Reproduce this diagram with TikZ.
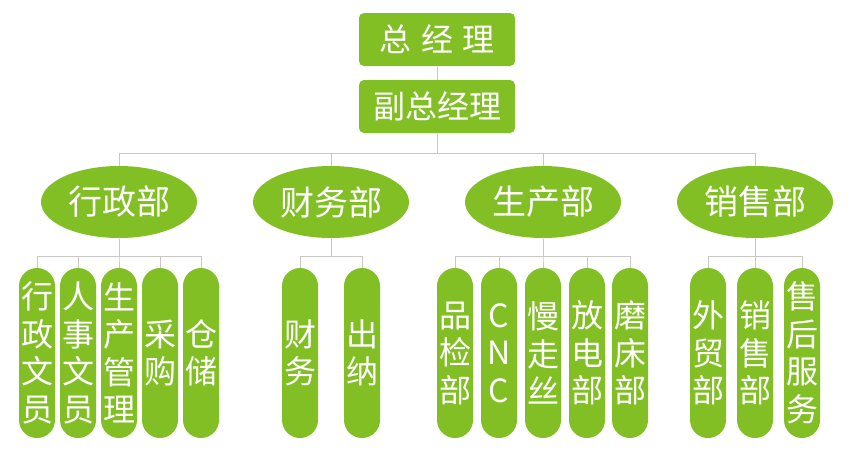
\documentclass[tikz,border=0pt]{standalone}
\usepackage{fontspec}
\setmainfont{Noto Sans CJK SC}
\usepackage{xcolor}
\definecolor{leaf}{HTML}{82BF25}
\definecolor{linegray}{HTML}{C8C8C8}
\usepackage{tikz}
\usetikzlibrary{shapes.geometric,positioning}
\tikzset{
  every picture/.style={line width=1pt},
  boss/.style={fill=leaf, rounded corners=5pt, text=white, minimum width=156pt, minimum height=53pt, inner sep=0pt, font=\fontsize{32}{32}\selectfont},
  dept/.style={ellipse, fill=leaf, text=white, minimum width=156pt, minimum height=72pt, inner sep=0pt, font=\fontsize{34}{34}\selectfont},
  pill/.style={fill=leaf, text=white, rounded corners=18pt, minimum width=36pt, minimum height=170pt, inner sep=0pt, align=center, font=\fontsize{32}{37.5}\selectfont},
  link/.style={draw=linegray},
}

\begin{document}
\begin{tikzpicture}[x=1pt, y=-1pt]
  \useasboundingbox (0,0) rectangle (850,456);
  \node[boss] (gm) at (437,39.5) {总\hspace{0.3em}经\hspace{0.3em}理};
  \node[boss, below=13pt of gm] (vgm) {副总经理};
  \foreach \n/\x/\t in {admin/119/行政部, fin/331/财务部, prod/543/生产部, sales/755/销售部}
    \node[dept] (\n) at (\x,202) {\t};
  \foreach \n/\x/\t in {a1/37/行\\政\\文\\员, a2/78/人\\事\\文\\员, a3/119/生\\产\\管\\理, a4/160/采\\购, a5/201/仓\\储,
      f1/300/财\\务, f2/362/出\\纳,
      p1/455/品\\检\\部, p2/499/C\\N\\C, p3/543/慢\\走\\丝, p4/587/放\\电\\部, p5/630/磨\\床\\部,
      s1/708/外\\贸\\部, s2/755/销\\售\\部, s3/802/售\\后\\服\\务}
    \node[pill] (\n) at (\x,353) {\t};
  \coordinate (bus) at (437,153);
  \draw[link] (gm) -- (vgm);
  \draw[link] (vgm) -- (bus);
  \foreach \n in {admin,fin,prod,sales} \draw[link] (bus) -| (\n);
  \foreach \d/\k in {admin/a1, admin/a2, admin/a3, admin/a4, admin/a5, fin/f1, fin/f2,
      prod/p1, prod/p2, prod/p3, prod/p4, prod/p5, sales/s1, sales/s2, sales/s3}
    \draw[link] (\d.south) -- ++(0,18) -| (\k);
\end{tikzpicture}
\end{document}
